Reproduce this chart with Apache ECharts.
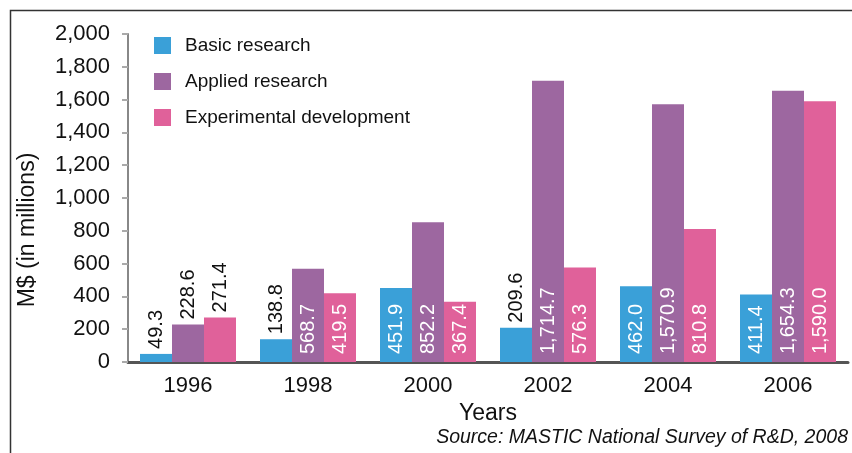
<!DOCTYPE html>
<html>
<head>
<meta charset="utf-8">
<script src="https://cdn.jsdelivr.net/npm/echarts@6/dist/echarts.min.js"></script>
<style>
  html, body { margin: 0; padding: 0; background: #fff; }
  #chart { width: 852px; height: 453px; }
</style>
</head>
<body>
<div id="chart"></div>
<script>
// R&D expenditure by type of research, M$ (in millions)
var years = ['1996', '1998', '2000', '2002', '2004', '2006'];
var basicResearch = [49.3, 138.8, 451.9, 209.6, 462.0, 411.4];
var appliedResearch = [228.6, 568.7, 852.2, 1714.7, 1570.9, 1654.3];
var experimentalDev = [271.4, 419.5, 367.4, 576.3, 810.8, 1590.0];
var yTicks = { min: 0, max: 2000, interval: 200 };

var FONT = '"Liberation Sans", Arial, sans-serif';

function fmt(v) {
  return v.toLocaleString('en-US', { minimumFractionDigits: 1, maximumFractionDigits: 1 });
}

// Short bars carry their label above the bar in black; taller bars hold it inside in white.
function withLabels(values) {
  return values.map(function (v) {
    var outside = v < 300;
    return {
      value: v,
      label: outside ? {
        position: 'top', distance: 5, color: '#111'
      } : {
        position: 'insideBottom', distance: 8, color: '#fff'
      }
    };
  });
}

function barSeries(name, values, color) {
  return {
    name: name,
    type: 'bar',
    data: withLabels(values),
    barGap: '0%',
    barCategoryGap: '20%',
    itemStyle: { color: color },
    label: {
      show: true,
      rotate: 90,
      align: 'left',
      verticalAlign: 'middle',
      fontFamily: FONT,
      fontSize: 20,
      formatter: function (p) { return fmt(p.value); }
    }
  };
}

var chart = echarts.init(document.getElementById('chart'), null, { renderer: 'canvas' });
chart.setOption({
  animation: false,
  backgroundColor: '#fff',
  textStyle: { fontFamily: FONT },
  grid: { left: 128, right: 4, top: 34, bottom: 91 },
  legend: {
    orient: 'vertical',
    left: 154,
    top: 36,
    padding: 0,
    itemWidth: 17,
    itemHeight: 17,
    itemGap: 17,
    icon: 'rect',
    textStyle: { fontSize: 19, color: '#111', fontFamily: FONT, padding: [0, 0, 0, 9] },
    data: ['Basic research', 'Applied research', 'Experimental development']
  },
  xAxis: {
    type: 'category',
    data: years,
    name: 'Years',
    nameLocation: 'middle',
    nameGap: 37,
    nameTextStyle: { fontSize: 23, color: '#111', fontFamily: FONT },
    axisLine: { show: true, lineStyle: { color: '#555', width: 3 } },
    axisTick: { show: false },
    axisLabel: { fontSize: 22, color: '#111', margin: 13, fontFamily: FONT }
  },
  yAxis: {
    type: 'value',
    min: yTicks.min,
    max: yTicks.max,
    interval: yTicks.interval,
    axisLine: { show: true, lineStyle: { color: '#888', width: 2 } },
    axisTick: { show: true, inside: false, length: 6, lineStyle: { color: '#aaa', width: 2 } },
    splitLine: { show: false },
    axisLabel: {
      fontSize: 22,
      color: '#111',
      margin: 18,
      fontFamily: FONT,
      formatter: function (v) { return v.toLocaleString('en-US'); }
    }
  },
  series: [
    barSeries('Basic research', basicResearch, '#3aa0d8'),
    barSeries('Applied research', appliedResearch, '#9d67a0'),
    barSeries('Experimental development', experimentalDev, '#e0619a')
  ],
  graphic: [
    {
      type: 'polyline',
      shape: { points: [[10.5, 453], [10.5, 10.5], [852, 10.5]] },
      style: { stroke: '#333', lineWidth: 1.5, fill: null }
    },
    {
      // value axis title
      type: 'text',
      x: 28,
      y: 230,
      rotation: Math.PI / 2,
      style: {
        text: 'M$ (in millions)',
        font: '23px ' + FONT,
        fill: '#111',
        align: 'center',
        verticalAlign: 'middle'
      }
    },
    {
      type: 'text',
      right: 4,
      top: 428,
      style: {
        text: 'Source: MASTIC National Survey of R&D, 2008',
        font: 'italic 19.5px ' + FONT,
        fill: '#111'
      }
    }
  ]
});
</script>
</body>
</html>
